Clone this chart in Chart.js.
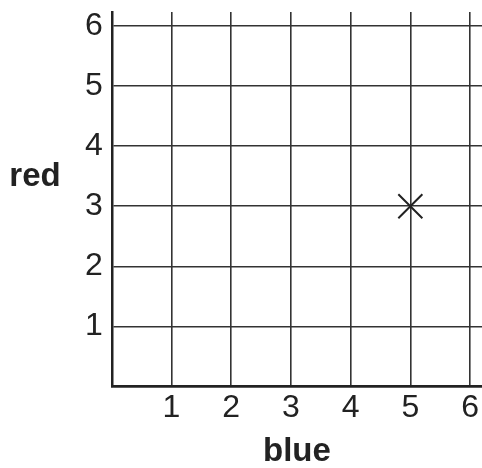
<!DOCTYPE html>
<html>
<head>
<meta charset="utf-8">
<script src="https://cdn.jsdelivr.net/npm/chart.js@4"></script>
<style>
  html, body { margin: 0; padding: 0; background: #fff; }
  #wrap { width: 482px; height: 468px; }
</style>
</head>
<body>
<div id="wrap"><canvas id="gridChart"></canvas></div>
<script>
const X_TITLE = "blue";
const Y_TITLE = "red";
const X_TICKS = [0, 1, 2, 3, 4, 5, 6];
const Y_TICKS = [0, 1, 2, 3, 4, 5, 6];
const POINT_X = [5];
const POINT_Y = [3];

const INK = "#222";
const FONT = "'Liberation Sans', Arial, sans-serif";

// horizontal y title, drawn left of the axis labels
const sideTitle = {
  id: "sideTitle",
  afterDraw(chart) {
    const { ctx, chartArea } = chart;
    ctx.save();
    ctx.fillStyle = INK;
    ctx.font = "bold 33px " + FONT;
    ctx.textAlign = "center";
    ctx.textBaseline = "middle";
    ctx.fillText(Y_TITLE, 35, (chartArea.top + chartArea.bottom) / 2 - 22);
    ctx.restore();
  },
};

const tickLabel = (v) => (v === 0 ? "" : String(v));

// labels may hang over the plot edges, so no extra room for them
function noEdgePadding(s) {
  s.paddingLeft = 0;
  s.paddingRight = 0;
  s.paddingTop = 0;
  s.paddingBottom = 0;
}

new Chart(document.getElementById("gridChart"), {
  type: "scatter",
  data: {
    datasets: [
      {
        data: POINT_X.map((x, i) => ({ x, y: POINT_Y[i] })),
        pointStyle: "crossRot",
        pointRadius: 17,
        pointBorderWidth: 2,
        borderColor: INK,
        backgroundColor: INK,
      },
    ],
  },
  options: {
    responsive: true,
    maintainAspectRatio: false,
    animation: false,
    layout: { autoPadding: false, padding: { left: 76, top: 12, right: 0, bottom: 0 } },
    plugins: { legend: { display: false }, tooltip: { enabled: false } },
    scales: {
      x: {
        type: "linear",
        min: 0,
        max: 6.2,
        afterBuildTicks: (s) => { s.ticks = X_TICKS.map((value) => ({ value })); },
        afterFit: noEdgePadding,
        ticks: { includeBounds: false, callback: tickLabel, color: INK, padding: 2, font: { family: FONT, size: 32 } },
        grid: { color: "#333", lineWidth: 1.6, drawTicks: false },
        border: { color: INK, width: 2.5 },
        title: { display: true, text: X_TITLE, color: INK, padding: { top: 6, bottom: 0 }, font: { family: FONT, size: 33, weight: "bold", lineHeight: 1 } },
      },
      y: {
        type: "linear",
        min: 0,
        max: 6.23,
        afterBuildTicks: (s) => { s.ticks = Y_TICKS.map((value) => ({ value })); },
        afterFit: noEdgePadding,
        ticks: { includeBounds: false, callback: tickLabel, color: INK, padding: 9, font: { family: FONT, size: 32 } },
        grid: { color: "#333", lineWidth: 1.6, drawTicks: false },
        border: { color: INK, width: 2.5 },
      },
    },
  },
  plugins: [sideTitle],
});
</script>
</body>
</html>
